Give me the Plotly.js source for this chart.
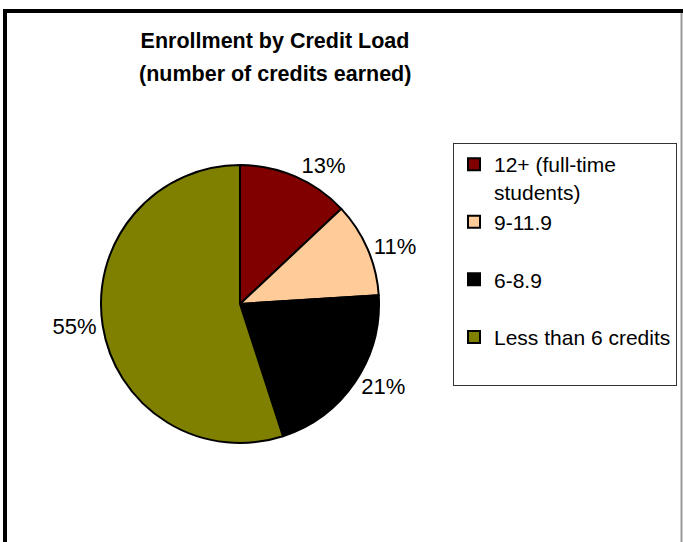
<!DOCTYPE html>
<html>
<head>
<meta charset="utf-8">
<script src="https://cdn.plot.ly/plotly-3.0.1.min.js"></script>
<style>html,body{margin:0;padding:0;background:#fff;}#chart{width:683px;height:542px;}</style>
</head>
<body>
<div id="chart"></div>
<script>
const categories = ["12+ (full-time<br>students)", "9-11.9", "6-8.9", "Less than 6 credits"];
const legendPadding = ["", "<br> ", "<br> ", "<br> "];
const percentValues = [13, 11, 21, 55];
const sliceColors = ["#800000", "#FFCC99", "#000000", "#808000"];
const titleLine1 = "<b>Enrollment by Credit Load</b>";
const titleLine2 = "<b>(number of credits earned)</b>";

const W = 683, H = 542;
const cx = 240, cy = 304, r = 139;
const FONT = "Liberation Sans, Arial, sans-serif";

const trace = {
  type: "pie",
  labels: categories.map((c, i) => c + legendPadding[i]),
  values: percentValues,
  sort: false,
  direction: "clockwise",
  rotation: 0,
  marker: { colors: sliceColors, line: { color: "#000", width: 2 } },
  textposition: "outside",
  texttemplate: "%{value}%",
  textfont: { family: FONT, size: 22, color: "#000" },
  hoverinfo: "label+percent",
  domain: { x: [(cx - r) / W, (cx + r) / W], y: [1 - (cy + r) / H, 1 - (cy - r) / H] },
  automargin: false
};

const layout = {
  width: W, height: H,
  margin: { l: 0, r: 0, t: 0, b: 0 },
  paper_bgcolor: "#fff",
  font: { family: FONT, color: "#000" },
  title: {
    text: titleLine1,
    font: { family: FONT, size: 21.5, color: "#000" },
    x: 275 / W, xanchor: "center", y: 1 - 40 / H, yanchor: "middle"
  },
  annotations: [
    { text: titleLine2, xref: "paper", yref: "paper", x: 275 / W, y: 1 - 74 / H,
      xanchor: "center", yanchor: "middle", showarrow: false,
      font: { family: FONT, size: 21.5, color: "#000" } }
  ],
  showlegend: true,
  legend: {
    x: 677 / W, xanchor: "right", y: 1 - 143 / H, yanchor: "top",
    bgcolor: "#fff", bordercolor: "#333", borderwidth: 1,
    font: { family: FONT, size: 21, color: "#000" },
    valign: "top", itemwidth: 30, traceorder: "normal"
  },
  shapes: [
    { type: "line", xref: "paper", yref: "paper", x0: 3 / W, x1: 1, y0: 1 - 11 / H, y1: 1 - 11 / H, line: { color: "#000", width: 4 } },
    { type: "line", xref: "paper", yref: "paper", x0: 5 / W, x1: 5 / W, y0: 1 - 9 / H, y1: 0, line: { color: "#000", width: 4 } },
    { type: "line", xref: "paper", yref: "paper", x0: 681.5 / W, x1: 681.5 / W, y0: 1 - 13 / H, y1: 0, line: { color: "#999", width: 2 } }
  ]
};

Plotly.newPlot("chart", [trace], layout, { displayModeBar: false, staticPlot: true });
</script>
</body>
</html>
